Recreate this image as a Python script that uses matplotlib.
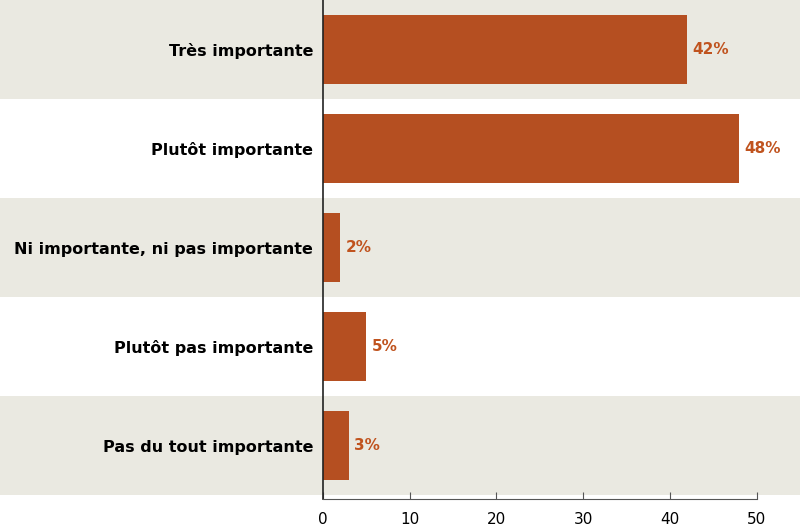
import matplotlib.pyplot as plt

# Survey answers (percent)
categories = ['Très importante', 'Plutôt importante', 'Ni importante, ni pas importante',
              'Plutôt pas importante', 'Pas du tout importante']
values = [42, 48, 2, 5, 3]
xticks = [0, 10, 20, 30, 40, 50]

bar_color = '#b54f21'
label_color = '#c0531e'
band_color = '#eae9e1'

plt.rcParams['font.family'] = ['DejaVu Sans']

fig = plt.figure(figsize=(8, 5.29), dpi=100)
fig.patch.set_facecolor('white')
ax = fig.add_axes([323 / 800, 1 - 499 / 529, 477 / 800, 499 / 529])
ax.set_facecolor('none')

xmax = 55
ax.set_xlim(0, xmax)
ax.set_ylim(4.54, -0.5)

# alternating grey bands across the whole width, labels included
left_frac = -323 / 477
for i in range(len(categories)):
    if i % 2 == 0:
        ax.axhspan(i - 0.5, i + 0.5, xmin=left_frac, xmax=1, color=band_color,
                   clip_on=False, zorder=0, lw=0)

ypos = list(range(len(categories)))
ax.barh(ypos, values, height=0.7, color=bar_color, zorder=2)

for y, v in zip(ypos, values):
    ax.text(v + 0.6, y, f'{v}%', va='center', ha='left', color=label_color,
            fontsize=11, fontweight='bold', zorder=3)

ax.set_yticks(ypos)
ax.set_yticklabels(categories, fontsize=11.5, fontweight='bold')
ax.tick_params(axis='y', length=0, pad=7)

ax.set_xticks(xticks)
ax.set_xticklabels([str(t) for t in xticks], fontsize=11)
ax.tick_params(axis='x', direction='in', length=5, color='#555555', pad=9)

for s in ['top', 'right']:
    ax.spines[s].set_visible(False)
ax.spines['left'].set_color('#222222')
ax.spines['left'].set_linewidth(1.2)
ax.spines['bottom'].set_color('#555555')
ax.spines['bottom'].set_bounds(0, 50)

fig.savefig('out.png', dpi=100)
